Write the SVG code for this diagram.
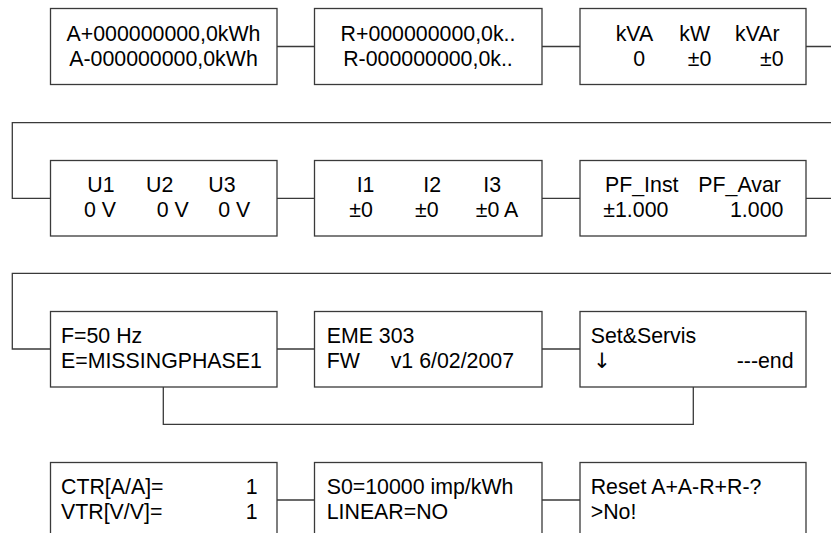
<svg xmlns="http://www.w3.org/2000/svg" width="831" height="533" viewBox="0 0 831 533">
<style>
.box{fill:#fff;stroke:#3a3a3a;stroke-width:1.3}
.ln{fill:none;stroke:#3a3a3a;stroke-width:1.3}
text{font-family:"Liberation Sans",Arial,sans-serif;font-size:21.33px;fill:#000}
.c{text-anchor:middle}
.e{text-anchor:end}
.arw{font-family:"DejaVu Sans","Noto Sans",sans-serif;font-size:21.33px;font-weight:normal}
</style>
<rect width="831" height="533" fill="#fff"/>
<g id="connectors">
<path class="ln" d="M277,46.5H314M542,46.5H580M806,46.5H831"/>
<path class="ln" d="M831,122.7H12.3V198.3H50M277,198.3H314M542,198.3H580M806,198.3H831"/>
<path class="ln" d="M831,273.3H12.3V349H50M277,349H314M542,349H580"/>
<path class="ln" d="M163.3,387V424.3H693.3V387"/>
<path class="ln" d="M277,500H314M542,500H580"/>
</g>
<g id="n1"><rect class="box" x="50.5" y="8.5" width="226.5" height="76"/>
<text class="c" x="163.5" y="40.7">A+000000000,0kWh</text>
<text class="c" x="163.5" y="65.7">A-000000000,0kWh</text></g>
<g id="n2"><rect class="box" x="314.5" y="8.5" width="227.5" height="76"/>
<text class="c" x="428" y="40.7">R+000000000,0k..</text>
<text class="c" x="428" y="65.7">R-000000000,0k..</text></g>
<g id="n3"><rect class="box" x="580" y="8.5" width="226" height="76"/>
<text y="40.7"><tspan x="615.7">kVA</tspan><tspan x="679.3">kW</tspan><tspan x="735">kVAr</tspan></text>
<text y="65.7"><tspan x="633.3">0</tspan><tspan x="687.7">±0</tspan><tspan x="760">±0</tspan></text></g>
<g id="n4"><rect class="box" x="50.5" y="160.5" width="226.5" height="75.5"/>
<text y="192.3"><tspan x="87.3">U1</tspan><tspan x="146">U2</tspan><tspan x="208.3">U3</tspan></text>
<text y="216.7"><tspan x="84">0 V</tspan><tspan x="156.7">0 V</tspan><tspan x="218.3">0 V</tspan></text></g>
<g id="n5"><rect class="box" x="314.5" y="160.5" width="227.5" height="75.5"/>
<text y="192.3"><tspan x="356.7">I1</tspan><tspan x="423.3">I2</tspan><tspan x="483.3">I3</tspan></text>
<text y="216.7"><tspan x="349.3">±0</tspan><tspan x="415">±0</tspan><tspan x="475.7">±0 A</tspan></text></g>
<g id="n6"><rect class="box" x="580" y="160.5" width="226" height="75.5"/>
<text y="192.3"><tspan x="605">PF_Inst</tspan><tspan x="698.3">PF_Avar</tspan></text>
<text y="216.7"><tspan x="603.3">±1.000</tspan><tspan x="730">1.000</tspan></text></g>
<g id="n7"><rect class="box" x="50.5" y="311.5" width="226.5" height="75.5"/>
<text x="61" y="343.3">F=50 Hz</text>
<text x="61" y="368.3">E=MISSINGPHASE1</text></g>
<g id="n8"><rect class="box" x="314.5" y="311.5" width="227.5" height="75.5"/>
<text x="326.7" y="343.3">EME 303</text>
<text y="368.3"><tspan x="326.7">FW</tspan><tspan x="390.7">v1 6/02/2007</tspan></text></g>
<g id="n9"><rect class="box" x="580" y="311.5" width="226" height="75.5"/>
<text x="590.7" y="343.3">Set&amp;Servis</text>
<text y="368.3"><tspan class="arw" x="593">↓</tspan><tspan x="736.7">---end</tspan></text></g>
<g id="n10"><rect class="box" x="50.5" y="462.5" width="226.5" height="80"/>
<text y="494"><tspan x="61">CTR[A/A]=</tspan></text><text class="e" x="257.7" y="494">1</text>
<text y="519.3"><tspan x="61">VTR[V/V]=</tspan></text><text class="e" x="257.7" y="519.3">1</text></g>
<g id="n11"><rect class="box" x="314.5" y="462.5" width="227.5" height="80"/>
<text x="326.7" y="494">S0=10000 imp/kWh</text>
<text x="326.7" y="519.3">LINEAR=NO</text></g>
<g id="n12"><rect class="box" x="580" y="462.5" width="226" height="80"/>
<text x="590.7" y="494">Reset A+A-R+R-?</text>
<text x="590.7" y="519.3">&gt;No!</text></g>
</svg>
